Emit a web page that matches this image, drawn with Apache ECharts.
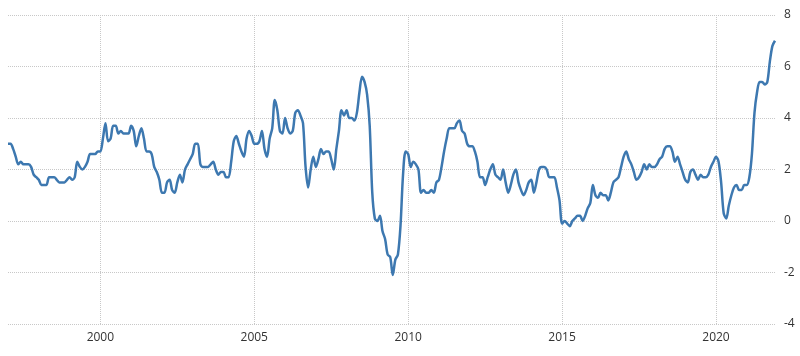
<!DOCTYPE html>
<html>
<head>
<meta charset="utf-8">
<script src="https://cdn.jsdelivr.net/npm/echarts@6/dist/echarts.min.js"></script>
<style>
  html, body { margin: 0; padding: 0; background: #fff; }
  #chart { width: 800px; height: 356px; }
</style>
</head>
<body>
<div id="chart"></div>
<script>
// inflation rate, monthly, Jan 1997 - Dec 2021
var years = [];
for (var y = 1997; y <= 2021; y++) years.push(y);

var rates = [
  3.0, 3.0, 2.8, 2.5, 2.2, 2.3, 2.2, 2.2, 2.2, 2.1, 1.8, 1.7,   // 1997
  1.6, 1.4, 1.4, 1.4, 1.7, 1.7, 1.7, 1.6, 1.5, 1.5, 1.5, 1.6,   // 1998
  1.7, 1.6, 1.7, 2.3, 2.1, 2.0, 2.1, 2.3, 2.6, 2.6, 2.6, 2.7,   // 1999
  2.7, 3.2, 3.8, 3.1, 3.2, 3.7, 3.7, 3.4, 3.5, 3.4, 3.4, 3.4,   // 2000
  3.7, 3.5, 2.9, 3.3, 3.6, 3.2, 2.7, 2.7, 2.6, 2.1, 1.9, 1.6,   // 2001
  1.1, 1.1, 1.5, 1.6, 1.2, 1.1, 1.5, 1.8, 1.5, 2.0, 2.2, 2.4,   // 2002
  2.6, 3.0, 3.0, 2.2, 2.1, 2.1, 2.1, 2.2, 2.3, 2.0, 1.8, 1.9,   // 2003
  1.9, 1.7, 1.7, 2.3, 3.1, 3.3, 3.0, 2.7, 2.5, 3.2, 3.5, 3.3,   // 2004
  3.0, 3.0, 3.1, 3.5, 2.8, 2.5, 3.2, 3.6, 4.7, 4.3, 3.5, 3.4,   // 2005
  4.0, 3.6, 3.4, 3.5, 4.2, 4.3, 4.1, 3.8, 2.1, 1.3, 2.0, 2.5,   // 2006
  2.1, 2.4, 2.8, 2.6, 2.7, 2.7, 2.4, 2.0, 2.8, 3.5, 4.3, 4.1,   // 2007
  4.3, 4.0, 4.0, 3.9, 4.2, 5.0, 5.6, 5.4, 4.9, 3.7, 1.1, 0.1,   // 2008
  0.0, 0.2, -0.4, -0.7, -1.3, -1.4, -2.1, -1.5, -1.3, -0.2, 1.8, 2.7, // 2009
  2.6, 2.1, 2.3, 2.2, 2.0, 1.1, 1.2, 1.1, 1.1, 1.2, 1.1, 1.5,   // 2010
  1.6, 2.1, 2.7, 3.2, 3.6, 3.6, 3.6, 3.8, 3.9, 3.5, 3.4, 3.0,   // 2011
  2.9, 2.9, 2.7, 2.3, 1.7, 1.7, 1.4, 1.7, 2.0, 2.2, 1.8, 1.7,   // 2012
  1.6, 2.0, 1.5, 1.1, 1.4, 1.8, 2.0, 1.5, 1.2, 1.0, 1.2, 1.5,   // 2013
  1.6, 1.1, 1.5, 2.0, 2.1, 2.1, 2.0, 1.7, 1.7, 1.7, 1.3, 0.8,   // 2014
  -0.1, 0.0, -0.1, -0.2, 0.0, 0.1, 0.2, 0.2, 0.0, 0.2, 0.5, 0.7, // 2015
  1.4, 1.0, 0.9, 1.1, 1.0, 1.0, 0.8, 1.1, 1.5, 1.6, 1.7, 2.1,   // 2016
  2.5, 2.7, 2.4, 2.2, 1.9, 1.6, 1.7, 1.9, 2.2, 2.0, 2.2, 2.1,   // 2017
  2.1, 2.2, 2.4, 2.5, 2.8, 2.9, 2.9, 2.7, 2.3, 2.5, 2.2, 1.9,   // 2018
  1.6, 1.5, 1.9, 2.0, 1.8, 1.6, 1.8, 1.7, 1.7, 1.8, 2.1, 2.3,   // 2019
  2.5, 2.3, 1.5, 0.3, 0.1, 0.6, 1.0, 1.3, 1.4, 1.2, 1.2, 1.4,   // 2020
  1.4, 1.7, 2.6, 4.2, 5.0, 5.4, 5.4, 5.3, 5.4, 6.2, 6.8, 7.0    // 2021
];

var yTicks = [-4, -2, 0, 2, 4, 6, 8];

// month labels like 1997-01
var months = [];
years.forEach(function (yr) {
  for (var m = 1; m <= 12; m++) months.push(yr + '-' + (m < 10 ? '0' + m : m));
});

// only Jan of 2000, 2005, ...
function isMark(idx, val) {
  return val.slice(5) === '01' && (+val.slice(0, 4)) % 5 === 0;
}

var chart = echarts.init(document.getElementById('chart'));

var option = {
  animation: false,
  textStyle: { fontFamily: 'Open Sans' },
  grid: { left: 8, right: 25, top: 15, bottom: 32 },
  xAxis: {
    type: 'category',
    boundaryGap: false,
    data: months,
    axisLine: { show: false },
    axisTick: {
      show: true,
      interval: isMark,
      length: 4,
      lineStyle: { color: '#cccccc', type: 'dotted' }
    },
    axisLabel: {
      interval: isMark,
      formatter: function (v) { return v.slice(0, 4); },
      color: '#333333',
      fontSize: 12,
      margin: 8
    },
    splitLine: {
      show: true,
      interval: isMark,
      lineStyle: { color: '#c8c8c8', type: 'dotted', width: 1 }
    }
  },
  yAxis: {
    type: 'value',
    position: 'right',
    min: yTicks[0],
    max: yTicks[yTicks.length - 1],
    interval: 2,
    axisLine: { show: false },
    axisTick: { show: false },
    axisLabel: { color: '#333333', fontSize: 12, margin: 9 },
    splitLine: {
      lineStyle: { color: '#c8c8c8', type: 'dotted', width: 1 }
    }
  },
  series: [{
    type: 'line',
    data: rates,
    showSymbol: false,
    smooth: 0.3,
    lineStyle: { color: '#3d78b0', width: 2.5 }
  }]
};

chart.setOption(option);
</script>
</body>
</html>
